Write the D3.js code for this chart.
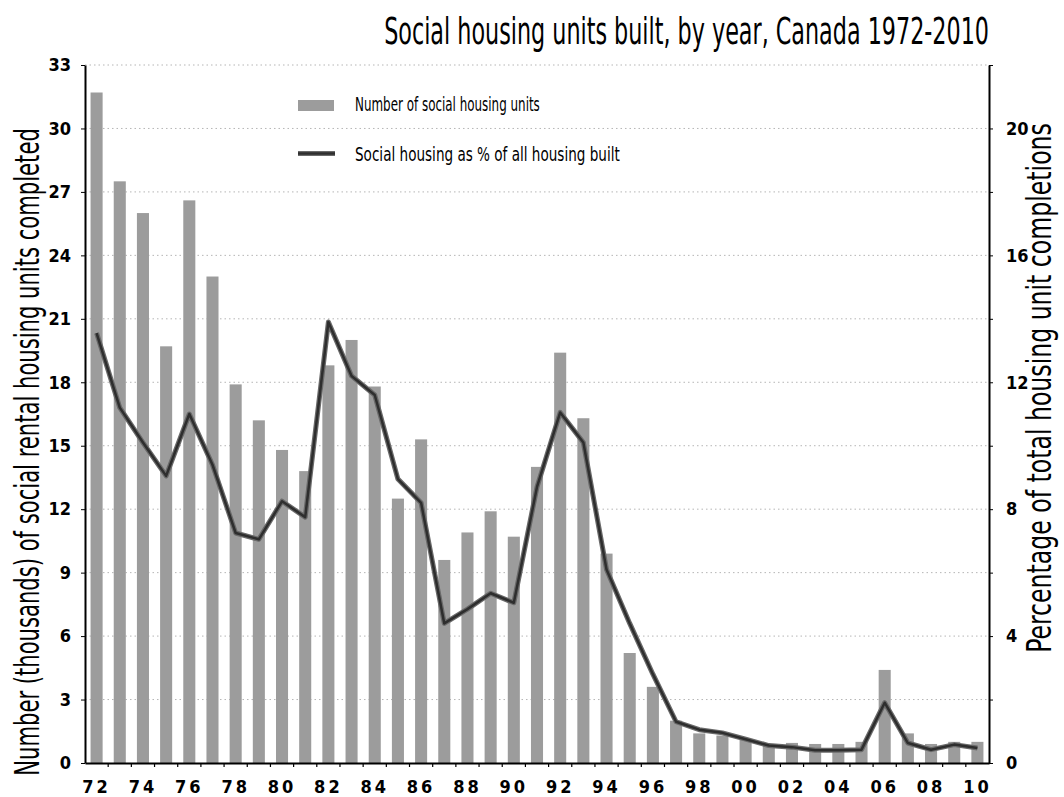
<!DOCTYPE html>
<html>
<head>
<meta charset="utf-8">
<script src="https://cdn.jsdelivr.net/npm/d3@7"></script>
<style>
  html, body { margin: 0; padding: 0; background: #fff; }
  svg { display: block; }
  text { font-family: "DejaVu Sans Condensed", "Liberation Sans Narrow", sans-serif; }
</style>
</head>
<body>
<svg id="chart" width="1064" height="797"></svg>
<script>
// ---- data ----
const years = d3.range(1972, 2011);
const unitsThousands = [31.7, 27.5, 26.0, 19.7, 26.6, 23.0, 17.9, 16.2, 14.8, 13.8,
                        18.8, 20.0, 17.8, 12.5, 15.3, 9.6, 10.9, 11.9, 10.7, 14.0,
                        19.4, 16.3, 9.9, 5.2, 3.6, 2.0, 1.4, 1.3, 1.1, 0.9,
                        0.95, 0.9, 0.9, 1.0, 4.4, 1.4, 0.9, 1.0, 1.0];
const pctOfAll = [13.55, 11.2, 10.1, 9.05, 11.0, 9.4, 7.25, 7.05, 8.25, 7.75,
                  13.9, 12.2, 11.6, 8.95, 8.2, 4.4, 4.85, 5.35, 5.05, 8.7,
                  11.05, 10.1, 6.1, 4.4, 2.8, 1.3, 1.05, 0.95, 0.75, 0.55,
                  0.5, 0.4, 0.4, 0.42, 1.9, 0.63, 0.42, 0.58, 0.47];
const leftTicks = [0, 3, 6, 9, 12, 15, 18, 21, 24, 27, 30, 33];
const rightTicks = [0, 2, 4, 6, 8, 10, 12, 14, 16, 18, 20, 22];
const rightLabels = [0, 4, 8, 12, 16, 20];
const titleText = "Social housing units built, by year, Canada 1972-2010";
const leftTitle = "Number (thousands) of social rental housing units completed";
const rightTitle = "Percentage of total housing unit completions";
const legendLabels = ["Number of social housing units", "Social housing as % of all housing built"];

// ---- layout ----
const X0 = 85, X1 = 989, Y0 = 763, Y1 = 65;
const barColor = "#9c9c9c", lineColor = "#2e2e2e";
const tickFont = '"DejaVu Sans Condensed", sans-serif';

const svg = d3.select("#chart");

const x = d3.scaleBand().domain(years).range([X0, X1]).paddingInner(0.48).paddingOuter(0.24);
const yL = d3.scaleLinear().domain([0, 33]).range([Y0, Y1]);
const yR = d3.scaleLinear().domain([0, 22]).range([Y0, Y1]);

// helper: condensed text fitted to a target length via horizontal scaling
function fittedText(g, str, size, target, tx, ty, rot, anchor) {
  const t = g.append("text")
    .attr("font-size", size)
    .attr("text-anchor", anchor)
    .attr("fill", "#000")
    .text(str);
  const w = t.node().getComputedTextLength();
  const s = target / w;
  t.attr("transform", `translate(${tx},${ty}) rotate(${rot}) scale(${s},1)`);
  return t;
}

// gridlines
svg.append("g").selectAll("line").data(leftTicks.filter(d => d > 0)).join("line")
  .attr("x1", X0).attr("x2", X1)
  .attr("y1", d => yL(d)).attr("y2", d => yL(d))
  .attr("stroke", "#b5b5b5").attr("stroke-width", 1).attr("stroke-dasharray", "1.5,3");

// bars
svg.append("g").selectAll("rect").data(years).join("rect")
  .attr("x", d => x(d))
  .attr("width", x.bandwidth())
  .attr("y", (d, i) => yL(unitsThousands[i]))
  .attr("height", (d, i) => Y0 - yL(unitsThousands[i]))
  .attr("fill", barColor);

// line
const line = d3.line()
  .x((d, i) => x(years[i]) + x.bandwidth() / 2)
  .y(d => yR(d));
svg.append("path").datum(pctOfAll)
  .attr("d", line)
  .attr("fill", "none")
  .attr("stroke", "#6a6a6a").attr("stroke-width", 5).attr("stroke-linejoin", "round");
svg.append("path").datum(pctOfAll)
  .attr("d", line)
  .attr("fill", "none")
  .attr("stroke", lineColor).attr("stroke-width", 2.5).attr("stroke-linejoin", "round");

// left axis
const gL = svg.append("g").attr("transform", `translate(${X0},0)`)
  .call(d3.axisLeft(yL).tickValues(leftTicks).tickSize(4).tickPadding(10).tickSizeOuter(0));
gL.select(".domain").attr("stroke", "#000").attr("stroke-width", 2);
gL.selectAll("text").attr("font-size", 18).attr("font-weight", "bold").attr("fill", "#000")
  .style("font-family", tickFont);

// right axis
const gR = svg.append("g").attr("transform", `translate(${X1},0)`)
  .call(d3.axisRight(yR).tickValues(rightTicks).tickSize(4).tickPadding(13).tickSizeOuter(0)
    .tickFormat(d => rightLabels.includes(d) ? d : ""));
gR.select(".domain").attr("stroke", "#000").attr("stroke-width", 2);
gR.selectAll("text").attr("font-size", 18).attr("font-weight", "bold").attr("fill", "#000")
  .style("font-family", tickFont);

// bottom axis
const gB = svg.append("g").attr("transform", `translate(0,${Y0})`)
  .call(d3.axisBottom(x).tickSize(0).tickPadding(17)
    .tickFormat(d => d % 2 === 0 ? String(d % 100).padStart(2, "0") : ""));
gB.select(".domain").attr("stroke", "#000").attr("stroke-width", 2);
gB.selectAll("text").attr("font-size", 18).attr("font-weight", "bold").attr("fill", "#000")
  .attr("letter-spacing", 3)
  .style("font-family", tickFont);
gB.append("g").selectAll("line").data(years.slice(1)).join("line")
  .attr("x1", d => x(d) - x.step() * x.paddingInner() / 2)
  .attr("x2", d => x(d) - x.step() * x.paddingInner() / 2)
  .attr("y1", 0).attr("y2", 4).attr("stroke", "#000").attr("stroke-width", 1.2);

// title
fittedText(svg, titleText, 38, 605, 989, 44, 0, "end");

// axis titles
fittedText(svg, leftTitle, 33, 648, 39, 452, -90, "middle");
fittedText(svg, rightTitle, 33, 530, 1051, 388, -90, "middle");

// legend
const lg = svg.append("g");
lg.append("rect").attr("x", 298).attr("y", 100).attr("width", 36).attr("height", 11).attr("fill", barColor);
lg.append("line").attr("x1", 298).attr("x2", 335).attr("y1", 153.5).attr("y2", 153.5)
  .attr("stroke", "#6a6a6a").attr("stroke-width", 5);
lg.append("line").attr("x1", 298).attr("x2", 335).attr("y1", 153.5).attr("y2", 153.5)
  .attr("stroke", lineColor).attr("stroke-width", 2.5);
fittedText(lg, legendLabels[0], 20, 185, 355, 111, 0, "start");
fittedText(lg, legendLabels[1], 20, 265, 355, 161, 0, "start");
</script>
</body>
</html>
